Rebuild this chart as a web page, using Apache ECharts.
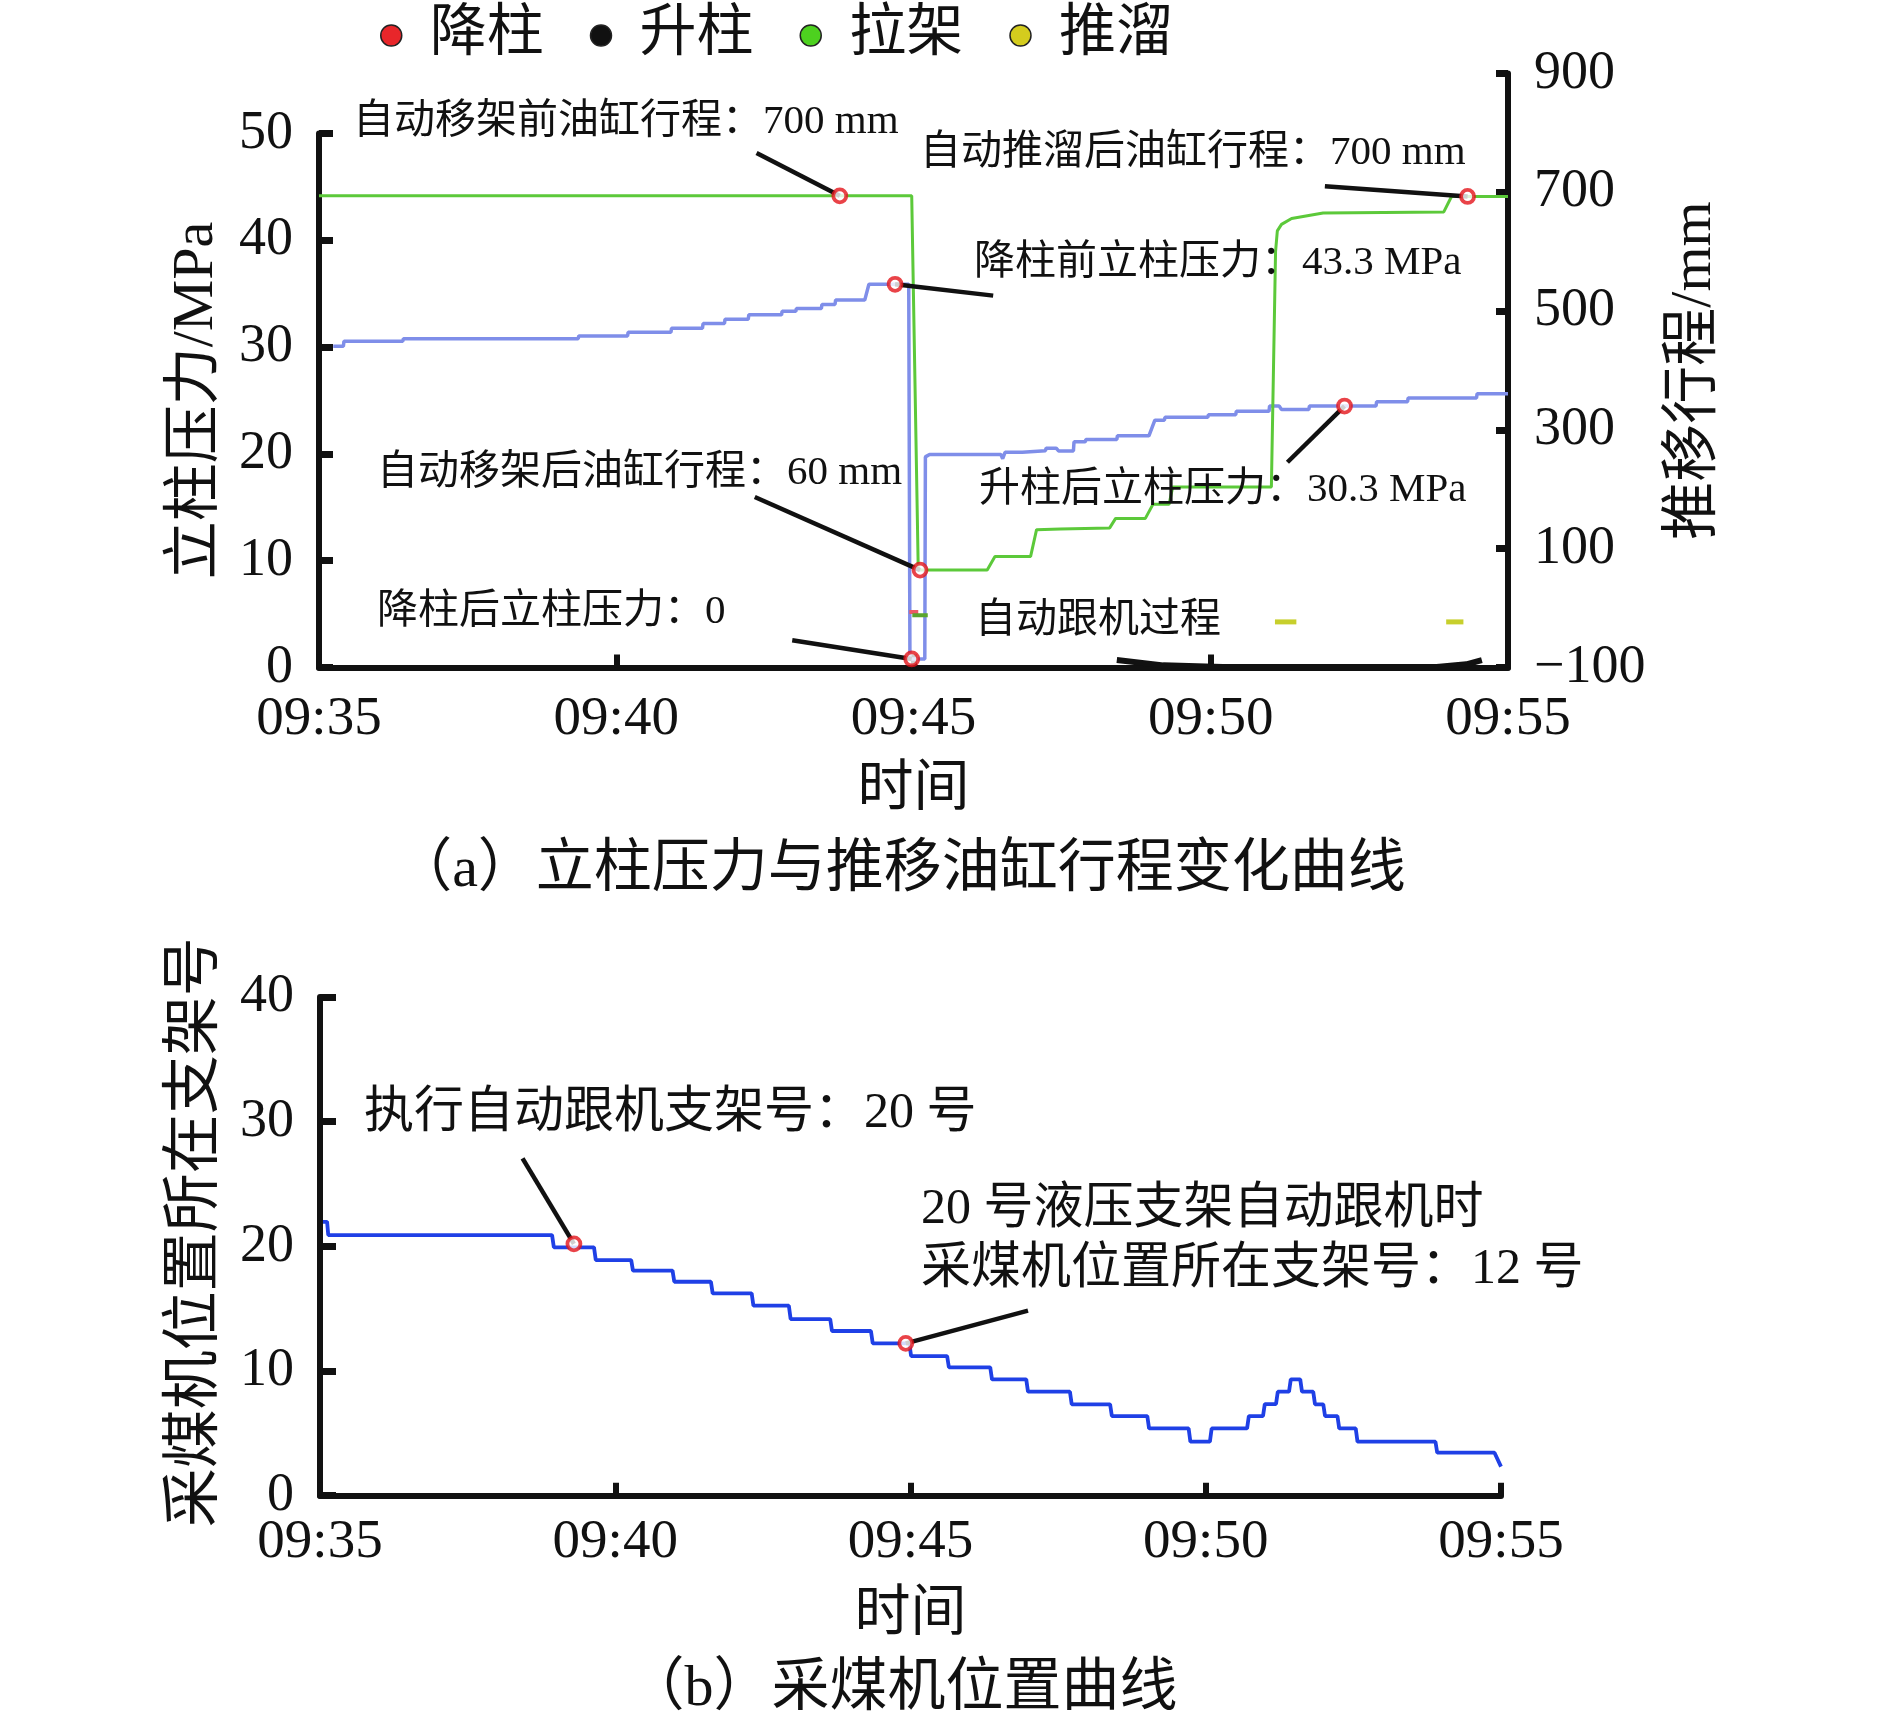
<!DOCTYPE html>
<html>
<head>
<meta charset="utf-8">
<script src="https://cdn.jsdelivr.net/npm/echarts@6/dist/echarts.min.js"></script>
<style>
html,body{margin:0;padding:0;background:#fff;}
#chart{width:1890px;height:1727px;}
</style>
</head>
<body>
<div id="chart"></div>
<script>
// ---------- data (time in minutes after 09:35) ----------
const timeTicks = ['09:35', '09:40', '09:45', '09:50', '09:55'];
const strokeTicks = ['\u2212100', '100', '300', '500', '700', '900'];
const legendNames = ['降柱', '升柱', '拉架', '推溜'];

// column pressure, MPa (left axis, top chart)
const pressure = [[0.24,30.07],[0.41,30.07],[0.42,30.55],[1.41,30.55],[1.42,30.79],[4.36,30.79],[4.37,31.05],[5.19,31.05],[5.20,31.38],[5.92,31.38],[5.93,31.77],[6.45,31.77],[6.46,32.2],[6.82,32.2],[6.83,32.6],[7.22,32.6],[7.23,33.02],[7.78,33.02],[7.79,33.35],[8.02,33.35],[8.03,33.61],[8.45,33.61],[8.46,34.0],[8.68,34.0],[8.69,34.4],[9.18,34.4],[9.25,35.88],[9.92,35.88],[9.94,0.8],[10.19,0.8],[10.2,19.72],[10.27,19.94],[11.47,19.94],[11.5,19.55],[11.54,20.15],[11.83,20.15],[11.84,20.3],[12.22,20.3],[12.23,20.54],[12.4,20.54],[12.44,20.28],[12.69,20.28],[12.7,21.13],[12.89,21.13],[12.9,21.36],[13.42,21.36],[13.43,21.69],[13.96,21.69],[14.06,23.16],[14.22,23.16],[14.23,23.43],[14.95,23.43],[14.96,23.66],[15.42,23.66],[15.43,23.99],[15.98,23.99],[15.99,24.48],[16.15,24.48],[16.19,24.15],[16.65,24.15],[16.66,24.48],[17.78,24.48],[17.79,24.88],[18.31,24.88],[18.32,25.23],[19.47,25.23],[19.48,25.63],[20,25.63]];

// push cylinder stroke, mm (right axis, top chart) -> 拉架
const stroke = [[0,694],[9.97,694],[10.08,64],[11.24,64],[11.37,87],[11.97,87],[12.07,132],[12.47,133],[12.5,135],[13.30,135],[13.40,151],[13.90,151],[14.03,175],[14.30,175],[14.36,204],[16.02,204],[16.09,600],[16.12,635],[16.19,646],[16.36,656],[16.89,665],[18.92,667],[19.05,693],[20,693]];

// 升柱 trace near zero
const raise = [[13.42,0.7],[14.2,0.2],[15.2,0.05],[18.8,0.05],[19.3,0.3],[19.56,0.7]];
// 降柱 short mark
const lower = [[9.93,5.2],[10.08,5.2]];
// small 拉架 mark
const pullMark = [[9.98,4.9],[10.24,4.9]];
// 推溜 marks
const push1 = [[16.08,4.27],[16.44,4.27]];
const push2 = [[18.96,4.27],[19.25,4.27]];

// shearer position (support number), bottom chart
const shearer = [[0.05,21.97],[0.12,21.97],[0.14,20.9],[3.93,20.9],[3.96,19.92],[4.64,19.92],[4.67,18.9],[5.27,18.9],[5.3,18.05],[5.97,18.05],[6.0,17.16],[6.62,17.16],[6.65,16.23],[7.31,16.23],[7.34,15.24],[7.94,15.24],[7.97,14.17],[8.64,14.17],[8.67,13.21],[9.33,13.21],[9.36,12.22],[9.98,12.22],[10.01,11.2],[10.62,11.2],[10.65,10.3],[11.35,10.3],[11.38,9.33],[11.96,9.33],[11.99,8.34],[12.7,8.34],[12.73,7.33],[13.38,7.33],[13.41,6.39],[14.01,6.39],[14.04,5.4],[14.71,5.4],[14.74,4.33],[15.07,4.33],[15.1,5.4],[15.7,5.4],[15.73,6.39],[15.97,6.39],[16.0,7.35],[16.19,7.35],[16.22,8.34],[16.41,8.34],[16.44,9.33],[16.6,9.33],[16.63,8.34],[16.82,8.34],[16.85,7.33],[16.99,7.33],[17.02,6.39],[17.23,6.39],[17.26,5.4],[17.54,5.4],[17.57,4.33],[18.89,4.33],[18.92,3.45],[19.89,3.45],[20.0,2.33]];

// annotation points (red circles) and leader lines
const markLeft = [[9.69,35.88],[9.97,0.8],[17.25,24.48]];
const markRight = [[8.76,694],[10.11,64],[19.32,693]];
const markBottom = [[4.30,20.2],[9.92,12.22]];
const leadLeft = [[[9.69,35.88],[11.34,34.82]], [[9.97,0.8],[7.96,2.55]], [[17.25,24.48],[16.29,19.22]]];
const leadRight = [[[8.76,694],[7.36,766]], [[10.11,64],[7.33,187]], [[19.32,693],[16.92,710]]];
const leadBottom = [[[4.30,20.2],[3.43,27.06]], [[9.92,12.22],[11.99,14.84]]];

const notesTop = ['自动移架前油缸行程：700 mm','自动推溜后油缸行程：700 mm','降柱前立柱压力：43.3 MPa','自动移架后油缸行程：60 mm','升柱后立柱压力：30.3 MPa','降柱后立柱压力：0','自动跟机过程'];
const notesBottom = ['执行自动跟机支架号：20 号','20 号液压支架自动跟机时','采煤机位置所在支架号：12 号'];
const captions = ['（a）立柱压力与推移油缸行程变化曲线','（b）采煤机位置曲线'];

// ---------- styling / layout ----------
const FF = "'Liberation Serif','Times New Roman','Noto Sans CJK SC',serif";
const INK = '#111';
const notesTopPos = [[353,122],[920,153],[974,263],[377,473],[979,490],[377,612],[975,621]];
const notesBottomPos = [[364,1114],[921,1210],[921,1270]];
const captionPos = [[900,871],[902,1690]];

function xAxisCfg(grid, show, margin, gap) {
  return {
    type: 'value', gridIndex: grid, min: 0, max: 20, interval: 5, show: show,
    name: '时间', nameLocation: 'middle', nameGap: gap,
    nameTextStyle: {fontFamily: FF, fontSize: 56, color: INK},
    axisLine: {show: true, onZero: false, lineStyle: {color: INK, width: 6}},
    axisTick: {show: true, inside: true, length: 13, lineStyle: {color: INK, width: 6}},
    axisLabel: {show: true, margin: margin, fontFamily: FF, fontSize: 55, color: INK,
      showMinLabel: true, showMaxLabel: true,
      formatter: v => timeTicks[Math.round(v / 5)]},
    splitLine: {show: false}
  };
}

function yAxisCfg(grid, pos, min, max, interval, name, gap, fmt, tickLen, nameSize, namePad) {
  return {
    type: 'value', gridIndex: grid, position: pos, min: min, max: max, interval: interval,
    name: name, nameLocation: 'middle', nameGap: gap, nameRotate: 90,
    nameTextStyle: {fontFamily: FF, fontSize: nameSize, color: INK, padding: namePad},
    axisLine: {show: true, onZero: false, lineStyle: {color: INK, width: 6}},
    axisTick: {show: true, inside: true, length: tickLen, lineStyle: {color: INK, width: 7}},
    axisLabel: {show: true, margin: 26, fontFamily: FF, fontSize: 54, color: INK,
      showMinLabel: true, showMaxLabel: true, formatter: fmt},
    splitLine: {show: false}
  };
}

function lineSeries(name, data, x, y, color, width, z) {
  return {
    name: name, type: 'line', xAxisIndex: x, yAxisIndex: y, data: data,
    symbol: 'none', showSymbol: false, z: z || 2, silent: true,
    lineStyle: {color: color, width: width},
    itemStyle: {color: color}
  };
}

const series = [];
series.push(lineSeries('立柱压力', pressure, 0, 0, '#7f8ee9', 3.5, 3));
const s1 = lineSeries('拉架', stroke, 1, 1, '#5cc93a', 3, 3); s1.itemStyle.color = '#4dd11f'; series.push(s1);
const s2 = lineSeries('升柱', raise, 0, 0, INK, 6, 4); series.push(s2);
const s3 = lineSeries('降柱', lower, 0, 0, '#ec5a66', 4, 4); s3.itemStyle.color = '#e8262a'; series.push(s3);
const s4 = lineSeries('拉架', pullMark, 0, 0, '#5aa52e', 4, 4); s4.itemStyle.color = '#4dd11f'; series.push(s4);
const s5 = lineSeries('推溜', push1, 0, 0, '#c7cf2c', 5, 4); s5.itemStyle.color = '#d4cc1e'; series.push(s5);
const s6 = lineSeries('推溜', push2, 0, 0, '#c7cf2c', 5, 4); s6.itemStyle.color = '#d4cc1e'; series.push(s6);
series.push(lineSeries('采煤机位置', shearer, 2, 2, '#1f40e6', 3.8, 3));

leadLeft.forEach(seg => series.push(lineSeries('leader', seg, 0, 0, INK, 4.5, 6)));
leadRight.forEach(seg => series.push(lineSeries('leader', seg, 1, 1, INK, 4.5, 6)));
leadBottom.forEach(seg => series.push(lineSeries('leader', seg, 2, 2, INK, 4.5, 6)));

function circles(data, x, y) {
  return {
    name: 'mark', type: 'scatter', xAxisIndex: x, yAxisIndex: y, data: data,
    symbol: 'circle', symbolSize: 13, z: 8, silent: true,
    itemStyle: {color: '#fff', borderColor: '#e4141a', borderWidth: 3.8}
  };
}
series.push(circles(markLeft, 0, 0));
series.push(circles(markRight, 1, 1));
series.push(circles(markBottom, 2, 2));

const graphics = [];
notesTop.forEach((t, i) => graphics.push({type: 'text', x: notesTopPos[i][0], y: notesTopPos[i][1], z: 10,
  style: {text: t, fontFamily: FF, fontSize: 41, fill: INK, align: 'left', verticalAlign: 'middle'}}));
notesBottom.forEach((t, i) => graphics.push({type: 'text', x: notesBottomPos[i][0], y: notesBottomPos[i][1], z: 10,
  style: {text: t, fontFamily: FF, fontSize: 50, fill: INK, align: 'left', verticalAlign: 'middle'}}));
captions.forEach((t, i) => graphics.push({type: 'text', x: captionPos[i][0], y: captionPos[i][1], z: 10,
  style: {text: t, fontFamily: FF, fontSize: 58, fill: INK, align: 'center', verticalAlign: 'middle'}}));

const option = {
  animation: false,
  backgroundColor: '#fff',
  legend: {
    data: legendNames, left: 380, top: 7, padding: 0, itemGap: 46,
    icon: 'circle', itemWidth: 21, itemHeight: 21,
    itemStyle: {borderColor: '#222', borderWidth: 1.5},
    textStyle: {fontFamily: FF, fontSize: 57, color: INK, padding: [0, 0, 0, 23]},
    selectedMode: false
  },
  grid: [
    {left: 319, top: 133.5, width: 1189, height: 534, outerBoundsMode: 'none'},
    {left: 319, top: 73.5, width: 1189, height: 594, outerBoundsMode: 'none'},
    {left: 320, top: 997, width: 1181, height: 498.7, outerBoundsMode: 'none'}
  ],
  xAxis: [xAxisCfg(0, true, 25, 95), xAxisCfg(1, false, 25, 95), xAxisCfg(2, true, 19, 92)],
  yAxis: [
    yAxisCfg(0, 'left', 0, 50, 10, '立柱压力/MPa', 93, v => String(v), 14, 58, [0, 0, 0, 0]),
    yAxisCfg(1, 'right', -100, 900, 200, '推移行程/mm', 158, v => strokeTicks[Math.round((v + 100) / 200)] || '', 12, 58, [0, 0, 0, 0]),
    yAxisCfg(2, 'left', 0, 40, 10, '采煤机位置所在支架号', 94, v => String(v), 16, 59, [0, 0, 0, 28])
  ],
  series: series,
  graphic: graphics
};

const chart = echarts.init(document.getElementById('chart'), null, {renderer: 'canvas'});
chart.setOption(option);
</script>
</body>
</html>
